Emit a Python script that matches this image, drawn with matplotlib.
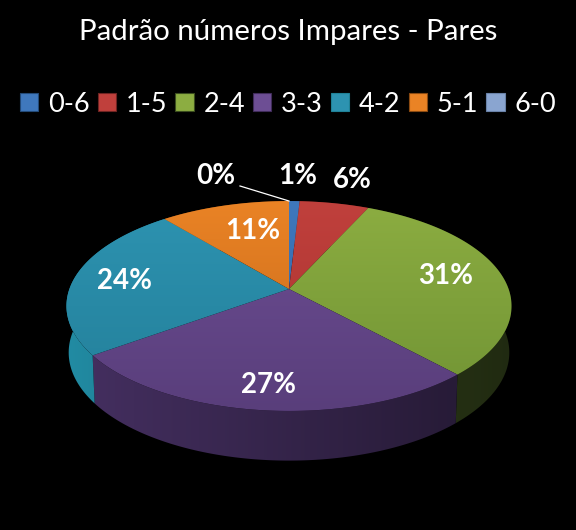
import numpy as np
import matplotlib
matplotlib.use("Agg")
import matplotlib.pyplot as plt
from matplotlib.patches import Polygon, Patch
from matplotlib.colors import to_rgb

title = "Padrão números Impares - Pares"
categories = ["0-6", "1-5", "2-4", "3-3", "4-2", "5-1", "6-0"]
values = [0.9, 5.9, 31.4, 26.8, 24.0, 11.0, 0.0]
labels = ["1%", "6%", "31%", "27%", "24%", "11%", "0%"]
colors_top = ["#3f78bd", "#c0403c", "#8cad41", "#6d4e94", "#2d93b1", "#ea8325", "#8aa5d0"]
colors_bottom = ["#2f62a0", "#a8322f", "#709334", "#593e7b", "#237f99", "#c4681a", "#7a94c0"]
colors_wall = ["#234a78", "#6e2422", "#3b4d1f", "#402c5a", "#1f8197", "#8a4a12", "#5a6e90"]
label_xy = [(298, 176), (352, 180), (446, 276), (269, 385), (125, 281), (253, 231), (216, 176)]

plt.rcParams["font.family"] = ["Lato", "DejaVu Sans"]

fig = plt.figure(figsize=(5.76, 5.30), dpi=100, facecolor="black")
ax = fig.add_axes([0, 0, 1, 1], facecolor="black")
ax.axis("off")

CX, CY, A, B, K = 289.0, 289.0, 219.6, 102.2, 0.162


def project(theta):
    x, y = np.sin(theta), np.cos(theta)
    w = 1 + K * y
    return CX + A * x / w, CY - B * y / w


def lower(px, py):
    return CX + (px - CX) * 0.99, CY + 46 + (py - CY) * 1.03


def fill_gradient(pts, c1, c2, lo, hi, horizontal, z):
    poly = Polygon(pts, closed=True, facecolor="none", edgecolor="none", zorder=z)
    ax.add_patch(poly)
    r1, r2 = np.array(to_rgb(c1)), np.array(to_rgb(c2))
    t = np.linspace(0, 1, 256)
    img = r1 * (1 - t)[:, None] + r2 * t[:, None]
    if horizontal:
        img = img[None, :, :]
        extent = (lo, hi, 530, 0)
    else:
        img = img[:, None, :]
        extent = (0, 576, hi, lo)
    im = ax.imshow(img, extent=extent, aspect="auto", zorder=z, interpolation="bilinear")
    im.set_clip_path(poly)


edges = np.cumsum([0] + values) / sum(values) * 2 * np.pi
for i in range(len(values)):
    if values[i] <= 0:
        continue
    th = np.linspace(edges[i], edges[i + 1], max(int(values[i] * 6), 6))
    px, py = project(th)
    qx, qy = lower(px, py)
    wall = np.column_stack([np.r_[px, qx[::-1]], np.r_[py, qy[::-1]]])
    base = np.array(to_rgb(colors_wall[i]))
    fill_gradient(wall, np.clip(base * 1.08, 0, 1), np.clip(base * 0.55, 0, 1), 66, 511, True, 2)

for i in range(len(values)):
    if values[i] <= 0:
        continue
    th = np.linspace(edges[i], edges[i + 1], max(int(values[i] * 6), 6))
    px, py = project(th)
    pts = np.column_stack([np.r_[CX, px], np.r_[CY, py]])
    fill_gradient(pts, colors_top[i], colors_bottom[i], 200, 412, False, 3)

ax.set_xlim(0, 576)
ax.set_ylim(530, 0)

for s, (x, y) in zip(labels, label_xy):
    ax.text(x, y, s, color="white", fontsize=20, fontweight="bold",
            ha="center", va="center", zorder=5)
ax.plot([240, 289], [186, 201], color="white", lw=0.9, zorder=4)

ax.text(288, 32, title, color="white", fontsize=21.2, ha="center", va="center")

handles = [Patch(facecolor=c, edgecolor=w, linewidth=0.8)
           for c, w in zip(colors_top, colors_wall)]
handles[-1] = Patch(facecolor=colors_top[-1], edgecolor="#6a82a8", linewidth=0.8)
ax.legend(handles, categories, loc="center", bbox_to_anchor=(288 / 576, 1 - 104 / 530),
          ncol=7, frameon=False, labelcolor="white", fontsize=19.5,
          handlelength=0.68, handleheight=0.68, handletextpad=0.36,
          columnspacing=0.295, borderpad=0, borderaxespad=0)

fig.savefig("out.png", dpi=100, facecolor="black")
